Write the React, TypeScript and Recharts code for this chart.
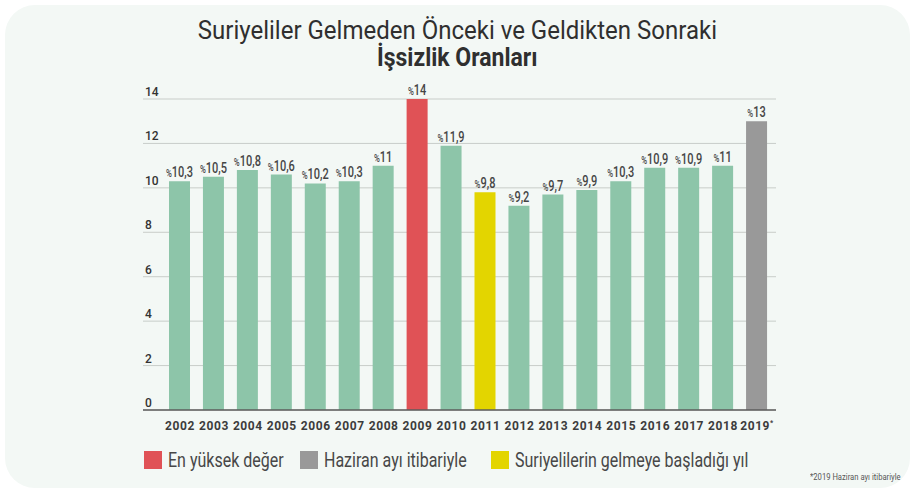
import type { CSSProperties, JSX } from "react";
import { BarChart, Bar, XAxis, YAxis, CartesianGrid, Cell, LabelList } from "recharts";

const years = ["2002", "2003", "2004", "2005", "2006", "2007", "2008", "2009", "2010", "2011", "2012", "2013", "2014", "2015", "2016", "2017", "2018", "2019"];
const rates = [10.3, 10.5, 10.8, 10.6, 10.2, 10.3, 11, 14, 11.9, 9.8, 9.2, 9.7, 9.9, 10.3, 10.9, 10.9, 11, 13];
const yTicks = [0, 2, 4, 6, 8, 10, 12, 14];

const GREEN = "#8dc5a9";
const RED = "#e05256";
const YELLOW = "#e3d500";
const GRAY = "#999999";

const highlight: Record<string, string> = { "2009": RED, "2011": YELLOW, "2019": GRAY };

const legendItems = [
  { color: RED, label: "En yüksek değer", left: 144 },
  { color: GRAY, label: "Haziran ayı itibariyle", left: 300 },
  { color: YELLOW, label: "Suriyelilerin gelmeye başladığı yıl", left: 491 },
];

const data = years.map((year, i) => ({ year, rate: rates[i] }));

const FONT = "Roboto, 'Noto Sans', sans-serif";

const squash = (cx: number, k: number) => `translate(${cx},0) scale(${k},1) translate(${-cx},0)`;

const ValueLabel = (props: any): JSX.Element => {
  const { x, y, width, value } = props;
  const cx = x + width / 2;
  return (
    <text x={cx} y={y - 4} textAnchor="middle" fill="#454545" fontFamily={FONT} fontWeight={500} transform={squash(cx, 0.76)}>
      <tspan fontSize={10.5}>%</tspan>
      <tspan fontSize={14.5}>{String(value).replace(".", ",")}</tspan>
    </text>
  );
};

const YearTick = (props: any): JSX.Element => {
  const { x, y, payload } = props;
  return (
    <text x={x} y={y + 20} textAnchor="middle" fill="#3c3c3c" fontFamily={FONT} fontWeight={700} fontSize={12} letterSpacing={0.6}>
      {payload.value}
      {payload.value === "2019" && <tspan fontSize={7} dy={-5}>*</tspan>}
    </text>
  );
};

const ValueTick = (props: any): JSX.Element => {
  const { x, y, payload } = props;
  return (
    <text x={x + 2} y={y - 3} textAnchor="start" fill="#333" fontFamily={FONT} fontWeight={500} fontSize={12}>
      {payload.value}
    </text>
  );
};

const squeezed = (k: number): CSSProperties => ({
  display: "inline-block",
  transform: `scaleX(${k})`,
  transformOrigin: "left center",
  whiteSpace: "nowrap",
});

export default function App(): JSX.Element {
  return (
    <div style={{ position: "absolute", left: 0, top: 0, width: 915, height: 488, background: "#fff", overflow: "hidden", fontFamily: FONT }}>
      <div style={{ position: "absolute", left: 5, top: 5, width: 905, height: 483, borderRadius: 30, background: "#f3f8f5" }} />
      <div style={{ position: "absolute", left: 0, top: 17, width: 915, textAlign: "center", color: "#2f2f2f", fontSize: 25, lineHeight: "27px" }}>
        <div style={{ fontWeight: 400 }}><span style={{ ...squeezed(0.96), transformOrigin: "center" }}>Suriyeliler Gelmeden Önceki ve Geldikten Sonraki</span></div>
        <div style={{ fontWeight: 700 }}><span style={{ ...squeezed(0.92), transformOrigin: "center" }}>İşsizlik Oranları</span></div>
      </div>
      <div style={{ position: "absolute", left: 0, top: 0 }}>
        <BarChart width={915} height={488} data={data} margin={{ top: 99, right: 139, bottom: 48, left: 123 }}>
          <CartesianGrid vertical={false} stroke="#c8cdc9" />
          <XAxis
            dataKey="year"
            height={30}
            interval={0}
            padding={{ left: 20, right: 2 }}
            axisLine={{ stroke: "#5c5c5c", strokeWidth: 1.5 }}
            tickLine={false}
            tickSize={0}
            tickMargin={0}
            tick={<YearTick />}
          />
          <YAxis
            width={20}
            domain={[0, 14]}
            ticks={yTicks}
            interval={0}
            axisLine={false}
            tickLine={false}
            tickSize={0}
            tickMargin={0}
            tick={<ValueTick />}
          />
          <Bar dataKey="rate" barSize={21} isAnimationActive={false}>
            {data.map((d) => (
              <Cell key={d.year} fill={highlight[d.year] ?? GREEN} />
            ))}
            <LabelList dataKey="rate" content={<ValueLabel />} />
          </Bar>
        </BarChart>
      </div>
      {legendItems.map((item) => (
        <div key={item.label} style={{ position: "absolute", left: item.left, top: 451, height: 18, display: "flex", alignItems: "center" }}>
          <div style={{ width: 18, height: 18, background: item.color }} />
          <span style={{ ...squeezed(0.8), marginLeft: 6, fontSize: 20, color: "#474747", lineHeight: "18px" }}>{item.label}</span>
        </div>
      ))}
      <div style={{ position: "absolute", left: 810, top: 472, fontSize: 9, color: "#555" }}>
        <span style={squeezed(0.85)}>*2019 Haziran ayı itibariyle</span>
      </div>
    </div>
  );
}
